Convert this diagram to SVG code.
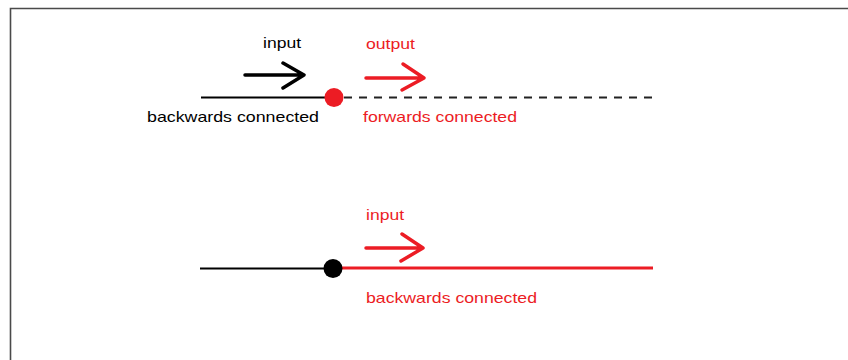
<svg xmlns="http://www.w3.org/2000/svg" width="848" height="360" viewBox="0 0 848 360">
<style>
.t{font-family:"Liberation Sans",Arial,sans-serif;font-size:15px}
.k{fill:#000}
.r{fill:#ec1c24}
.ar{fill:none;stroke-linecap:round;stroke-linejoin:round;stroke-width:3.5}
</style>
<rect width="848" height="360" fill="#fff"/>
<path d="M10.5 360V8.5H848" fill="none" stroke="#4a4a4a" stroke-width="1.6"/>
<g id="connectors">
<line x1="201" y1="97.5" x2="330" y2="97.5" stroke="#000" stroke-width="2"/>
<line x1="344" y1="97.5" x2="656" y2="97.5" stroke="#222" stroke-width="2" stroke-dasharray="8 7"/>
<line x1="200" y1="268.5" x2="328" y2="268.5" stroke="#000" stroke-width="1.8"/>
<line x1="338" y1="268" x2="653" y2="268" stroke="#ec1c24" stroke-width="3"/>
<path class="ar" stroke="#000" d="M245 75H304M283 63L304 75L283 88"/>
<path class="ar" stroke="#ec1c24" d="M366 78H424M403 64L424 78L402 90"/>
<path class="ar" stroke="#ec1c24" d="M366 248H423M402 234L423 248L401 261"/>
</g>
<g id="node-top">
<circle cx="334" cy="97.5" r="9.5" fill="#ec1c24"/>
</g>
<g id="node-bottom">
<circle cx="333" cy="268.5" r="9.5" fill="#000"/>
</g>
<g id="labels">
<text class="t k" x="263" y="48" textLength="38" lengthAdjust="spacingAndGlyphs">input</text>
<text class="t k" x="147" y="122" textLength="172" lengthAdjust="spacingAndGlyphs">backwards connected</text>
<text class="t r" x="366" y="49" textLength="49" lengthAdjust="spacingAndGlyphs">output</text>
<text class="t r" x="363" y="122" textLength="154" lengthAdjust="spacingAndGlyphs">forwards connected</text>
<text class="t r" x="366" y="220" textLength="38" lengthAdjust="spacingAndGlyphs">input</text>
<text class="t r" x="366" y="303" textLength="171" lengthAdjust="spacingAndGlyphs">backwards connected</text>
</g>
</svg>
